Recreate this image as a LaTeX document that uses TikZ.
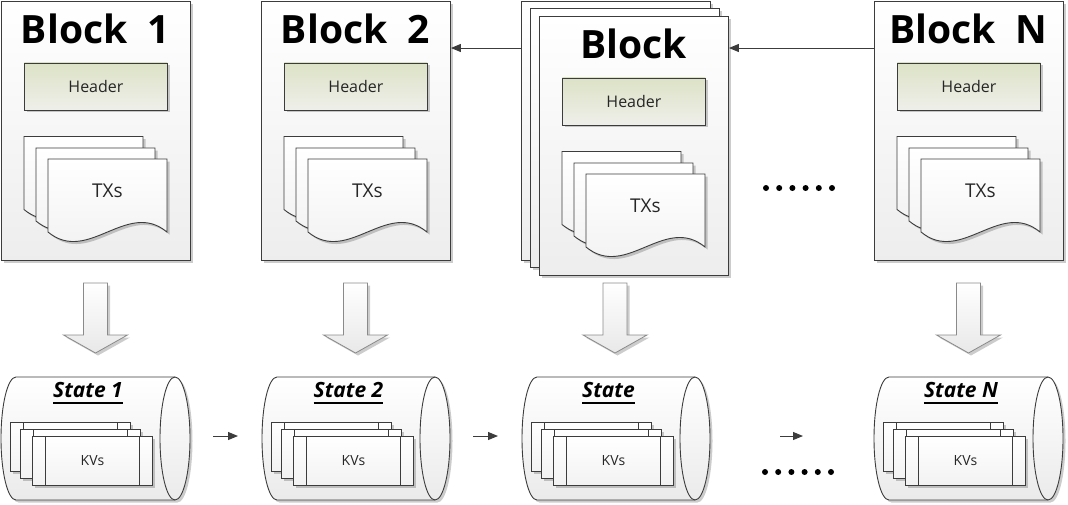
\documentclass[tikz,border=0pt]{standalone}
\usepackage{fontspec}
\setmainfont{Open Sans}
\usetikzlibrary{arrows.meta,calc,shadows}
\definecolor{lc}{HTML}{3C3C3C}
\definecolor{hdtop}{HTML}{DCE2C6}
\definecolor{hdbot}{HTML}{EFEFEA}
\definecolor{arrline}{HTML}{8A8A8A}
\definecolor{txtc}{HTML}{262626}
\tikzset{
  base/.style={draw=lc, line width=0.9pt},
  shd/.style={drop shadow={shadow xshift=2.5pt, shadow yshift=-2.5pt, opacity=0.2, fill=black}},
  blk/.style={base, shd, top color=white, bottom color=black!7, minimum width=189pt, minimum height=259pt, anchor=north west, inner sep=0pt},
  hdr/.style={base, shd, top color=hdtop, bottom color=hdbot, minimum width=143pt, minimum height=47pt, anchor=north west, inner sep=0pt, font=\fontsize{16}{19}\selectfont, text=txtc},
  ttl/.style={font=\bfseries\fontsize{39}{44}\selectfont, anchor=base, inner sep=0pt, text=black},
  txs/.style={font=\fontsize{19}{22}\selectfont, inner sep=0pt, text=txtc},
  docst/.style={base, shd, top color=white, bottom color=black!6},
  bigar/.style={draw=arrline, line width=0.8pt, top color=white, bottom color=black!9, shd},
  cyl/.style={base, shd, top color=white, bottom color=black!8},
  kv/.style={base, shd, top color=white, bottom color=black!5, minimum width=120pt, minimum height=49pt, anchor=north west, inner sep=0pt, font=\fontsize{14}{17}\selectfont, text=txtc},
  sttl/.style={font=\bfseries\itshape\fontsize{21}{24}\selectfont, anchor=base, inner sep=0pt, text=black},
  conn/.style={draw=lc, line width=1pt, -{Triangle[length=10pt,width=8pt]}},
}
\newcommand\docpg[2]{%
  \begin{scope}[shift={(#1,#2)}]
    \path[docst] (0,0) -- (119,0) -- (119,73) .. controls (79,40) and (40,106) .. (0,73) -- cycle;
  \end{scope}}
\newcommand\blockinner[3]{% x, y (top-left of page), name
  \node[hdr] (#3h) at (#1+23,#2+61.5) {Header};
  \docpg{#1+23}{#2+135.5}
  \docpg{#1+35}{#2+147}
  \docpg{#1+47}{#2+158}
  \node[txs] (#3tx) at (#1+106.5,#2+189.5) {TXs};}
\newcommand\bigarr[1]{%
  \path[bigar] (#1-12,283) -- (#1+12,283) -- (#1+12,335) -- (#1+32,335) -- (#1,353) -- (#1-32,335) -- (#1-12,335) -- cycle;}
\newcommand\kvbox[4]{%
  \node[kv] (#1) at (#2,#3) {#4};
  \draw[base] ([xshift=13pt]#1.north west) -- ([xshift=13pt]#1.south west)
              ([xshift=-13pt]#1.north east) -- ([xshift=-13pt]#1.south east);}
\newcommand\cylpg[4]{% L, R, name, title
  \path[cyl] (#1+15,377) -- (#2-15,377) arc[start angle=-90, end angle=90, x radius=15, y radius=61.5]
     -- (#1+15,500) arc[start angle=90, end angle=270, x radius=15, y radius=61.5] -- cycle;
  \draw[base] (#2-15,377) arc[start angle=-90, end angle=-270, x radius=15, y radius=61.5];
  \node[sttl] (#3t) at ({(#1+#2-15)/2},397) {#4};
  \draw[line width=1.5pt, black] ([yshift=-6pt]#3t.base west) -- ([yshift=-6pt]#3t.base east);
  \kvbox{#3a}{#1+9}{422}{}
  \kvbox{#3b}{#1+19}{429}{}
  \kvbox{#3c}{#1+31}{436}{KVs}}
\begin{document}
\begin{tikzpicture}[x=1pt,y=-1pt]
\useasboundingbox (0,0) rectangle (1068,504);
% blocks
\node[blk] (b1) at (1,1) {};
\node[ttl] (b1t) at (95.5,43) {Block~~1};
\blockinner{1}{1}{b1}
\node[blk] (b2) at (261,1) {};
\node[ttl] (b2t) at (355.5,43) {Block~~2};
\blockinner{261}{1}{b2}
\node[blk] (bmback) at (521,1) {};
\node[blk] (bmmid) at (530,8) {};
\node[blk] (bm) at (539,16) {};
\node[ttl] (bmt) at (633.5,58) {Block};
\blockinner{539}{16}{bm}
\node[blk] (bN) at (874,1) {};
\node[ttl] (bNt) at (968.5,43) {Block~~N};
\blockinner{874}{1}{bN}
% connectors between blocks
\draw[conn] ($(bmback.north west)+(0,47)$) -- ($(b2.north east)+(0,47)$);
\draw[conn] ($(bN.north west)+(0,47)$) -- ($(bm.north east)+(0,32)$);
% dots
\foreach \i in {0,...,5} \fill[black] ({766+13.2*\i},188) circle[radius=3];
\foreach \i in {0,...,5} \fill[black] ({765+13.2*\i},472) circle[radius=3];
% big arrows
\bigarr{95.5}
\bigarr{355.5}
\bigarr{615}
\bigarr{968.5}
% states
\cylpg{1}{190}{s1}{State 1}
\cylpg{262}{450}{s2}{State 2}
\cylpg{522}{710}{sm}{State}
\cylpg{874}{1063}{sN}{State N}
% small arrows
\coordinate (a1s) at (213,436); \coordinate (a1e) at (238,436);
\coordinate (a2s) at (473,436); \coordinate (a2e) at (498,436);
\coordinate (a3s) at (780,436); \coordinate (a3e) at (803,436);
\draw[conn] (a1s) -- (a1e);
\draw[conn] (a2s) -- (a2e);
\draw[conn] (a3s) -- (a3e);
\end{tikzpicture}
\end{document}
